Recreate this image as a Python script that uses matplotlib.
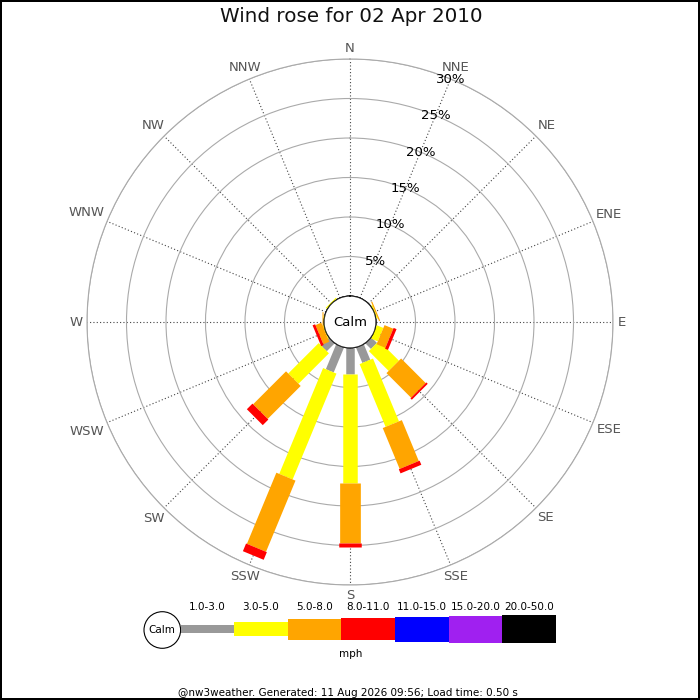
import numpy as np
import matplotlib
matplotlib.use('Agg')
import matplotlib.pyplot as plt
from matplotlib.patches import Circle

# data (% of time per direction and speed bin)
directions = ['N', 'NNE', 'NE', 'ENE', 'E', 'ESE', 'SE', 'SSE',
              'S', 'SSW', 'SW', 'WSW', 'W', 'WNW', 'NW', 'NNW']
speed_bins = ['1.0-3.0', '3.0-5.0', '5.0-8.0', '8.0-11.0',
              '11.0-15.0', '15.0-20.0', '20.0-50.0']
bin_colors = ['#999999', '#ffff00', '#ffa500', '#ff0000',
              '#0000ff', '#a020f0', '#000000']
#             N   NNE  NE  ENE   E   ESE   SE   SSE   S     SSW   SW   WSW   W     WNW  NW    NNW
freq_1_3 = [0,   0,   0,  0,    0,  0,    1.0, 2.1,  3.35, 3.4,  1.4, 0,    0,    0,   0,    0]
freq_3_5 = [0,   0,   0,  0.15, 0,  0.9,  3.55, 8.6, 13.7, 14.5, 5.45, 0.1, 0.08, 0,   0.15, 0]
freq_5_8 = [0,   0,   0,  0.15, 0,  1.2,  4.4, 5.6,  7.6,  9.75, 5.9, 0.8,  0.12, 0,   0,    0]
freq_8_11 = [0,  0,   0,  0,    0,  0.4,  0.25, 0.56, 0.58, 1.05, 1.0, 0.35, 0,   0,   0,    0]
freq_11_15 = [0] * 16
freq_15_20 = [0] * 16
freq_20_50 = [0] * 16
freqs = [freq_1_3, freq_3_5, freq_5_8, freq_8_11, freq_11_15, freq_15_20, freq_20_50]
r_ticks = [5, 10, 15, 20, 25, 30]

# bar thickness in pixels for each speed bin
bar_px = [8.5, 14.5, 20.7, 22.5, 25, 26.7, 28.3]
px = 0.72  # points per pixel at dpi 100
px_per_pct = 7.9
r_orig = -3.29
# distance of compass label centres from the middle, pixels
label_px = [273, 275, 278, 280, 272, 280, 277, 275,
            273, 275, 278, 285, 274, 285, 278, 275]

fig = plt.figure(figsize=(7, 7), dpi=100, facecolor='white',
                 edgecolor='black', linewidth=1.5)

# ---- rose
ax = fig.add_axes([87 / 700, 115 / 700, 526 / 700, 526 / 700], projection='polar')
ax.set_theta_zero_location('N')
ax.set_theta_direction(-1)
ax.set_ylim(0, 30)
ax.set_rorigin(r_orig)

theta = np.deg2rad(np.arange(16) * 22.5)
for k, f in enumerate(freqs):
    base = np.sum(freqs[:k], axis=0) if k > 0 else np.zeros(16)
    for i in range(16):
        if f[i] <= 0:
            continue
        ax.plot([theta[i], theta[i]], [base[i], base[i] + f[i]],
                color=bin_colors[k], lw=bar_px[k] * px,
                solid_capstyle='butt', zorder=3 + k)

ax.set_yticks(r_ticks)
ax.set_yticklabels([])
ax.yaxis.grid(True, color='#aaaaaa', lw=0.8, ls='-')
ax.set_xticks(theta)
ax.set_xticklabels([])
ax.tick_params(axis='x', length=0)
ax.xaxis.grid(True, color='#444444', lw=0.8, ls=(0, (1, 2)))
ax.spines['polar'].set_color('#aaaaaa')
ax.spines['polar'].set_linewidth(0.8)
ax.spines['inner'].set_visible(False)

for i, d in enumerate(directions):
    ax.text(theta[i], label_px[i] / px_per_pct + r_orig, d, ha='center', va='center',
            fontsize=9.5, color='#555555', clip_on=False)

for r in r_ticks:
    ax.text(np.deg2rad(22.5), r, f'{r}%', ha='center', va='center',
            fontsize=9.5, color='black', zorder=12)

ax.add_patch(Circle((0.5, 0.5), 26 / 526, transform=ax.transAxes,
                    facecolor='white', edgecolor='black', lw=0.8, zorder=20))
ax.text(0.5, 0.5, 'Calm', transform=ax.transAxes, ha='center', va='center',
        fontsize=9.5, zorder=21)

# ---- legend strip
lg = fig.add_axes([140 / 700, 35 / 700, 430 / 700, 70 / 700])
lg.set_xlim(140, 570)
lg.set_ylim(665, 595)
lg.axis('off')
lg.add_patch(Circle((162.3, 630), 18.3, facecolor='white', edgecolor='black', lw=0.8))
lg.text(162.3, 630, 'Calm', ha='center', va='center', fontsize=7.5)
seg_w = 53.6
for k, lab in enumerate(speed_bins):
    x0 = 180.6 + k * seg_w
    lg.bar(x0, bar_px[k], bottom=629.2 - bar_px[k] / 2, width=seg_w,
           align='edge', color=bin_colors[k], lw=0)
    lg.text(x0 + seg_w / 2, 607.3, lab, ha='center', va='center', fontsize=7.5)
lg.text(350.7, 654, 'mph', ha='center', va='center', fontsize=7.5)

fig.text(351.5 / 700, 1 - 16.7 / 700, 'Wind rose for 02 Apr 2010',
         ha='center', va='center', fontsize=14.3, color='#111111')
fig.text(348 / 700, 1 - 693 / 700,
         '@nw3weather. Generated: 11 Aug 2026 09:56; Load time: 0.50 s',
         ha='center', va='center', fontsize=7.5)

fig.savefig('out.png', dpi=100)
